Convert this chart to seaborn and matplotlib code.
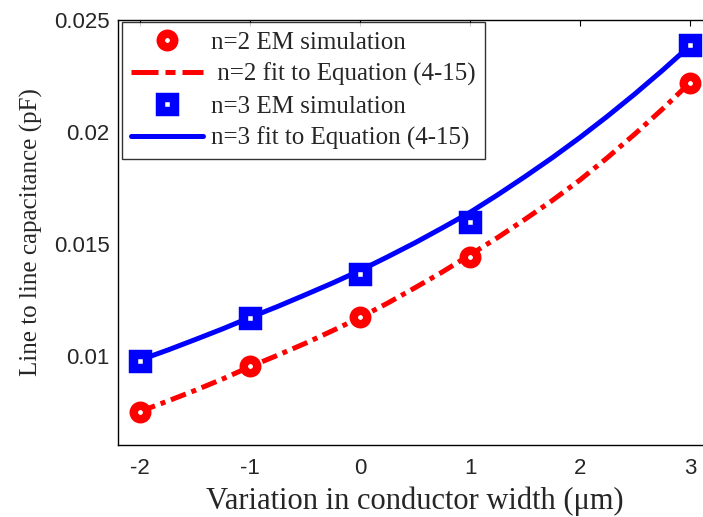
import matplotlib
matplotlib.use("Agg")
import matplotlib.pyplot as plt
import seaborn as sns
import pandas as pd

# EM simulation results (line-to-line capacitance, pF)
width_sim = [-2, -1, 0, 1, 3]
cap_n2_sim = [0.00747, 0.00953, 0.01172, 0.01440, 0.02218]
cap_n3_sim = [0.00977, 0.01168, 0.01364, 0.01597, 0.02388]

# Fitted curves from Equation (4-15)
width_fit = [-2.0, -1.75, -1.5, -1.25, -1.0, -0.75, -0.5, -0.25, 0.0,
             0.25, 0.5, 0.75, 1.0, 1.25, 1.5, 1.75, 2.0, 2.25, 2.5, 2.75, 3.0]
cap_n2_fit = [0.00750, 0.00796, 0.00844, 0.00895, 0.00950, 0.01001, 0.01054,
              0.01111, 0.01170, 0.01234, 0.01303, 0.01374, 0.01450, 0.01527,
              0.01609, 0.01694, 0.01785, 0.01885, 0.01991, 0.02102, 0.02220]
cap_n3_fit = [0.00980, 0.01024, 0.01071, 0.01119, 0.01170, 0.01219, 0.01271,
              0.01324, 0.01380, 0.01441, 0.01504, 0.01571, 0.01640, 0.01718,
              0.01800, 0.01885, 0.01975, 0.02070, 0.02170, 0.02275, 0.02385]

x_ticks = [-2, -1, 0, 1, 2, 3]
x_tick_labels = ["-2", "-1", "0", "1", "2", "3"]
y_ticks = [0.01, 0.015, 0.02, 0.025]
y_tick_labels = ["0.01", "0.015", "0.02", "0.025"]

labels = ["n=2 EM simulation", " n=2 fit to Equation (4-15)",
          "n=3 EM simulation", "n=3 fit to Equation (4-15)"]

sns.set_style("white")
plt.rcParams["font.family"] = ["Liberation Serif", "DejaVu Serif"]

fig = plt.figure(figsize=(7.03, 5.17), dpi=100)
ax = fig.add_axes([118 / 703, 72 / 517, 594 / 703, 425 / 517])

fit_df = pd.DataFrame({"w": width_fit, "n2": cap_n2_fit, "n3": cap_n3_fit})
sim_df = pd.DataFrame({"w": width_sim, "n2": cap_n2_sim, "n3": cap_n3_sim})

lw = 3.6
ms = 9.7

sns.lineplot(data=fit_df, x="w", y="n2", ax=ax, color="#ff0000", lw=lw,
             errorbar=None, zorder=2)
red_fit = ax.lines[-1]
red_fit.set_dashes((3.2, 1.2, 1.0, 1.2))
red_fit.set_dash_capstyle("butt")

sns.lineplot(data=fit_df, x="w", y="n3", ax=ax, color="#0000ff", lw=lw,
             errorbar=None, zorder=2)
blue_fit = ax.lines[-1]

sns.lineplot(data=sim_df, x="w", y="n2", ax=ax, linestyle="none",
             marker="o", markersize=ms, markeredgewidth=6.1,
             markeredgecolor="#ff0000", markerfacecolor="white",
             errorbar=None, zorder=3)
red_sim = ax.lines[-1]

sns.lineplot(data=sim_df, x="w", y="n3", ax=ax, linestyle="none",
             marker="s", markersize=ms, markeredgewidth=6.8,
             markeredgecolor="#0000ff", markerfacecolor="white",
             errorbar=None, zorder=3)
blue_sim = ax.lines[-1]

ax.set_xlim(-2.2, 3.2)
ax.set_ylim(0.006, 0.025)
ax.set_xticks(x_ticks)
ax.set_xticklabels(x_tick_labels, family="Liberation Sans", fontsize=16)
ax.set_yticks(y_ticks)
ax.set_yticklabels(y_tick_labels, family="Liberation Sans", fontsize=16)
ax.tick_params(direction="in", length=4, width=0.8, color="black",
               top=True, right=True)
ax.tick_params(axis="x", pad=9)
ax.tick_params(axis="y", pad=6)

for sp in ax.spines.values():
    sp.set_color("black")
    sp.set_linewidth(1.0)

ax.set_xlabel("Variation in conductor width (\u03bcm)", fontsize=22, labelpad=6)
ax.set_ylabel("Line to line capacitance (pF)", fontsize=18, labelpad=8)

leg = ax.legend([red_sim, red_fit, blue_sim, blue_fit], labels,
                loc="upper left", bbox_to_anchor=(0.0067, 0.995),
                fontsize=18, frameon=True, fancybox=False, shadow=False,
                handlelength=2.9, handletextpad=0.3, labelspacing=0.36,
                borderpad=0.36, borderaxespad=0.0)
leg.get_frame().set_edgecolor("black")
leg.get_frame().set_linewidth(1.0)
leg_lines = leg.get_lines()
leg_lines[1].set_dashes((5.4, 1.4, 2.0, 1.4))

fig.savefig("out.png", dpi=100)
